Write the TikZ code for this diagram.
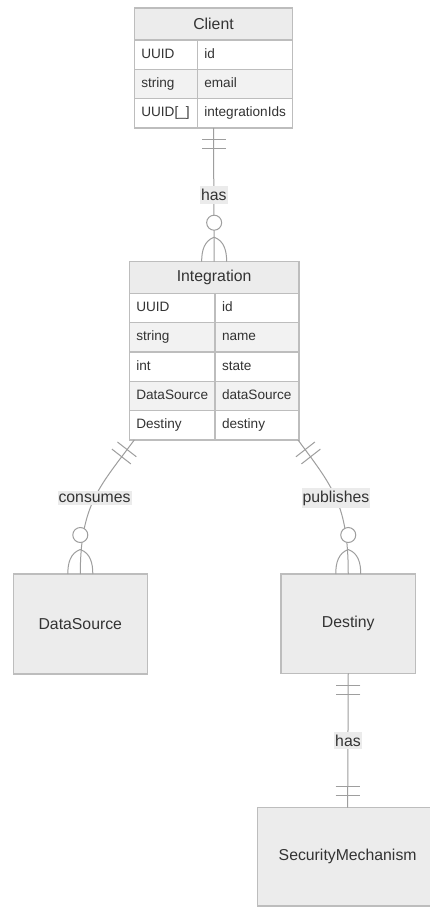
\documentclass[tikz,border=0pt]{standalone}
\usepackage{fontspec}
\setmainfont{Liberation Sans}
\usepackage{xcolor}
\definecolor{boxfill}{HTML}{ECECEC}
\definecolor{rowgray}{HTML}{F2F2F2}
\definecolor{boxline}{HTML}{BDBDBD}
\definecolor{relline}{HTML}{9E9E9E}
\definecolor{txt}{HTML}{333333}
\definecolor{lblbg}{HTML}{EBEBEB}
\tikzset{
  onlyone/.pic={\draw[rel] (-12,12) -- (12,12) (-12,21) -- (12,21);},
  zeromany/.pic={\draw[rel] (0,24.5) to[out=200,in=90] (-12.5,0) (0,24.5) to[out=-20,in=90] (12.5,0);
                 \draw[rel, fill=white] (0,39) circle[radius=7.5];}
}

\begin{document}
\begin{tikzpicture}[x=1pt, y=1pt,
    ent/.style={draw=boxline, fill=boxfill, line width=1.3pt, text=txt, font=\fontsize{15.8}{18}\selectfont, inner sep=0pt, outer sep=0pt},
    cell/.style={draw=boxline, line width=1.3pt, text=txt, font=\fontsize{13.6}{16}\selectfont, inner xsep=7pt, inner ysep=0pt, outer sep=0pt, minimum height=29.33pt, text height=10pt, text depth=3pt, anchor=north west, align=left},
    rel/.style={draw=relline, line width=1pt},
    lbl/.style={fill=lblbg, text=txt, font=\fontsize{15.8}{18}\selectfont, inner xsep=1pt, inner ysep=3pt}]
    \useasboundingbox[fill=white] (0,0) rectangle (430,-907);
    \clip (0,0) rectangle (430,-907);

    \node[ent, minimum width=158.4, minimum height=32, anchor=north west] (client) at (134.3,-8) {Client};
    \foreach \t/\n/\f [count=\i] in {UUID/id/white, string/email/rowgray, {UUID[\_]}/integrationIds/white} {
        \node[cell, fill=\f, text width=49pt] (client-t\i) at ([yshift={-(\i-1)*29.33pt}]client.south west) {\t};
        \node[cell, fill=\f, text width=81.4pt] (client-n\i) at (client-t\i.north east) {\n};
    }

    \node[ent, minimum width=169.7, minimum height=31.6, anchor=north west] (intg) at (129.3,-261.7) {Integration};
    \foreach \t/\n/\f [count=\i] in {UUID/id/white, string/name/rowgray, int/state/white, DataSource/dataSource/rowgray, Destiny/destiny/white} {
        \node[cell, fill=\f, text width=71.7pt] (intg-t\i) at ([yshift={-(\i-1)*29.33pt}]intg.south west) {\t};
        \node[cell, fill=\f, text width=70pt] (intg-n\i) at (intg-t\i.north east) {\n};
    }

    \node[ent, minimum width=134, minimum height=100, anchor=north west] (dsrc) at (13.3,-574) {DataSource};
    \node[ent, minimum width=134.5, minimum height=99.3, anchor=north west] (dest) at (281,-574) {Destiny};
    \node[ent, minimum width=180.7, minimum height=98.3, anchor=north west] (secm) at (257.3,-807.7) {SecurityMechanism};

    \draw[rel] (client.south |- client-t3.south) -- (intg.north) node[lbl, midway] {has};
    \draw[rel] ([xshift=5pt]intg-t5.south west) .. controls +(-34,-46) and +(0,70) .. (dsrc.north) node[lbl, pos=0.5] {consumes};
    \draw[rel] ([xshift=-1pt]intg-n5.south east) .. controls +(34,-46) and +(0,70) .. (dest.north) node[lbl, pos=0.5] {publishes};
    \draw[rel] (dest.south) -- (secm.north) node[lbl, midway] {has};

    \pic[rotate=180] at (client.south |- client-t3.south) {onlyone};
    \pic at (intg.north) {zeromany};
    \pic[rotate=142] at ([xshift=5pt]intg-t5.south west) {onlyone};
    \pic[rotate=-142] at ([xshift=-1pt]intg-n5.south east) {onlyone};
    \pic at (dsrc.north) {zeromany};
    \pic at (dest.north) {zeromany};
    \pic[rotate=180] at (dest.south) {onlyone};
    \pic at (secm.north) {onlyone};
\end{tikzpicture}
\end{document}
